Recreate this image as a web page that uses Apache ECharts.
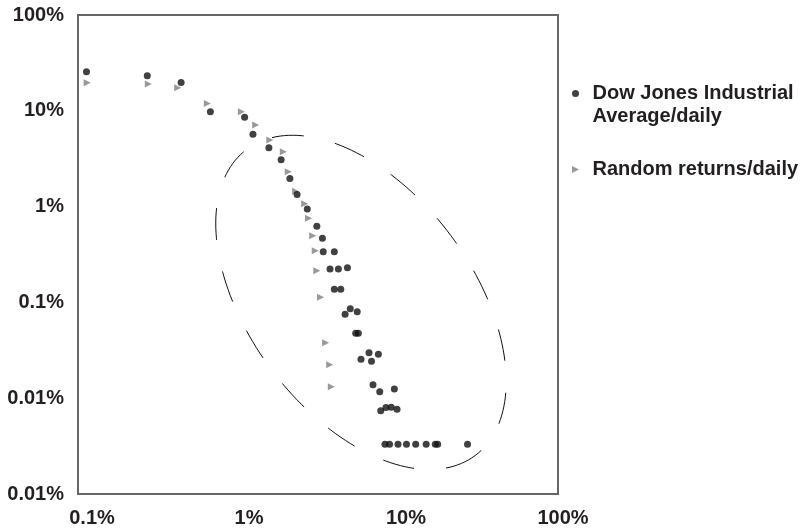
<!DOCTYPE html>
<html>
<head>
<meta charset="utf-8">
<script src="https://cdn.jsdelivr.net/npm/echarts@6/dist/echarts.min.js"></script>
<style>
  html, body { margin: 0; padding: 0; background: #fff; }
  #chart { width: 811px; height: 528px; }
</style>
</head>
<body>
<div id="chart"></div>
<script>
// Tick labels (one per decade)
const xTickLabels = ['0.1%', '1%', '10%', '100%'];
const yTickLabels = ['0.01%', '0.01%', '0.1%', '1%', '10%', '100%'];

// Dow Jones Industrial Average, daily: size of move (%) vs. frequency (%)
const djiaMove = [0.113, 0.271, 0.441, 0.672, 1.10, 1.24, 1.56, 1.86, 2.11, 2.34,
  2.71, 3.11, 3.37, 3.41, 4.00, 3.76, 4.24, 4.83, 4.00, 4.39,
  4.67, 5.03, 5.56, 5.44, 5.65, 5.87, 6.59, 7.54, 6.83, 6.98,
  7.69, 9.49, 7.80, 8.41, 9.07, 9.86, 8.29, 8.85, 10.0, 11.3,
  12.9, 15.0, 17.1, 17.7, 27.2];
const djiaFreq = [25.6, 23.2, 19.8, 9.8, 8.55, 5.70, 4.12, 3.09, 1.97, 1.34,
  0.944, 0.622, 0.467, 0.338, 0.338, 0.223, 0.223, 0.230, 0.137, 0.137,
  0.0751, 0.0857, 0.080, 0.0475, 0.0475, 0.0255, 0.0299, 0.0287, 0.0243, 0.0138,
  0.0117, 0.0125, 0.00741, 0.0080, 0.00805, 0.00766, 0.0033, 0.0033, 0.0033, 0.0033,
  0.0033, 0.0033, 0.0033, 0.0033, 0.0033];

// Random returns, daily
const randMove = [0.114, 0.275, 0.420, 0.643, 1.05, 1.29, 1.58, 1.92, 2.06, 2.29,
  2.61, 2.76, 2.93, 3.04, 3.11, 3.28, 3.53, 3.74, 3.83];
const randFreq = [19.6, 19.0, 17.4, 11.9, 9.8, 7.11, 4.96, 3.74, 2.31, 1.45,
  1.07, 0.755, 0.496, 0.347, 0.214, 0.113, 0.0379, 0.0223, 0.0132];

// Centre of the dashed ellipse around the fat tail (move %, frequency %)
const tailCentre = [5.87, 0.1];

const FONT = "'Liberation Sans', Arial, Helvetica, sans-serif";
const TEXT = '#231f20';
const DJIA = 'Dow Jones Industrial Average/daily';
const RAND = 'Random returns/daily';
const TRIANGLE_RIGHT = 'path://M0,0L10,5L0,10Z';

const zip = (a, b) => a.map((v, i) => [v, b[i]]);

const labelFont = { fontSize: 20, fontWeight: 'bold', fontFamily: FONT, color: TEXT };
// x labels sit a little right of their ticks, drifting left towards 100%
const xRich = {};
[28, 22, 16, 10].forEach((p, i) => { xRich['t' + i] = Object.assign({ padding: [0, 0, 0, p] }, labelFont); });

const legendText = Object.assign({ lineHeight: 23 }, labelFont);

const chart = echarts.init(document.getElementById('chart'), null, { renderer: 'canvas' });

chart.setOption({
  backgroundColor: '#fff',
  animation: false,
  grid: {
    left: 78, top: 15, right: 253, bottom: 34,
    show: true, borderColor: '#666', borderWidth: 2, backgroundColor: '#fff'
  },
  xAxis: {
    type: 'log', logBase: 10, min: 0.1, max: 100,
    axisLine: { show: false }, axisTick: { show: false }, splitLine: { show: false },
    axisLabel: Object.assign({
      margin: 14,
      rich: xRich,
      formatter: v => {
        const i = Math.round(Math.log10(v)) + 1;
        return '{t' + i + '|' + xTickLabels[i] + '}';
      }
    }, labelFont)
  },
  yAxis: {
    type: 'log', logBase: 10, min: 0.001, max: 100,
    axisLine: { show: false }, axisTick: { show: false }, splitLine: { show: false },
    axisLabel: Object.assign({
      margin: 14,
      formatter: v => yTickLabels[Math.round(Math.log10(v)) + 3]
    }, labelFont)
  },
  legend: [
    {
      left: 567, top: 54, itemWidth: 24, itemHeight: 7,
      selectedMode: false,
      // leading blank line keeps the bullet level with the first line of the name
      formatter: () => '\nDow Jones Industrial\nAverage/daily',
      data: [{ name: DJIA, icon: 'circle' }],
      textStyle: legendText
    },
    {
      left: 567, top: 153, itemWidth: 24, itemHeight: 7,
      selectedMode: false,
      data: [{ name: RAND, icon: TRIANGLE_RIGHT, itemStyle: { color: '#808080' } }],
      textStyle: legendText
    }
  ],
  series: [
    {
      name: 'tail',
      type: 'custom',
      silent: true,
      z: 1,
      data: [tailCentre],
      renderItem: (params, api) => {
        const c = api.coord([api.value(0), api.value(1)]);
        const rx = 191, ry = 112, rot = 53.3 * Math.PI / 180;
        const pts = [];
        for (let i = 0; i <= 180; i++) {
          const t = i / 180 * Math.PI * 2;
          const ex = rx * Math.cos(t), ey = ry * Math.sin(t);
          pts.push([c[0] + ex * Math.cos(rot) - ey * Math.sin(rot),
                    c[1] + ex * Math.sin(rot) + ey * Math.cos(rot)]);
        }
        return {
          type: 'polyline',
          shape: { points: pts },
          style: { fill: null, stroke: '#111', lineWidth: 1, lineDash: [32, 32] }
        };
      }
    },
    {
      name: RAND,
      type: 'scatter',
      z: 3,
      symbol: TRIANGLE_RIGHT, symbolSize: 7, symbolKeepAspect: true,
      itemStyle: { color: '#808080' },
      data: zip(randMove, randFreq)
    },
    {
      name: DJIA,
      type: 'scatter',
      z: 4,
      symbol: 'circle', symbolSize: 7,
      itemStyle: { color: '#111' },
      data: zip(djiaMove, djiaFreq)
    }
  ]
});
</script>
</body>
</html>
